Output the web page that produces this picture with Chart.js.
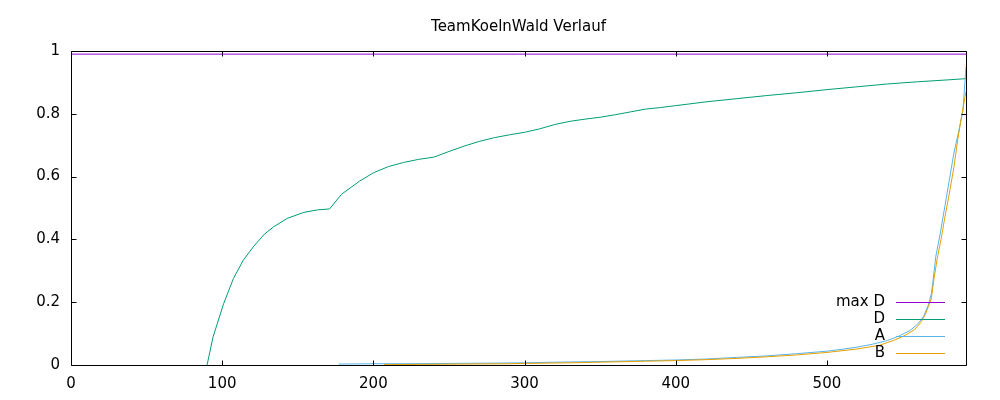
<!DOCTYPE html>
<html>
<head>
<meta charset="utf-8">
<script src="https://cdn.jsdelivr.net/npm/chart.js@4/dist/chart.umd.min.js"></script>
<style>
  html, body { margin: 0; padding: 0; background: #fff; }
  #wrap { width: 1000px; height: 400px; }
</style>
</head>
<body>
<div id="wrap"><canvas id="verlauf"></canvas></div>
<script>
// tick labels
var xTicks = [0, 100, 200, 300, 400, 500];
var yTicks = [0, 0.2, 0.4, 0.6, 0.8, 1];
var xMax = 592;

// max D (flat)
var xMaxD = [0, 592];
var yMaxD = [0.99, 0.99];

// D
var xD = [90, 94, 101, 107.5, 114, 121, 128, 134, 143, 154, 163, 171, 179, 191, 200, 210, 220, 230, 240,
          250, 260, 270, 280, 290, 300, 310, 320, 330, 340, 350, 360, 370, 380, 390, 400, 420, 440, 460,
          480, 500, 520, 540, 560, 580, 592];
var yD = [0, 0.09, 0.196, 0.276, 0.334, 0.379, 0.417, 0.44, 0.467, 0.486, 0.494, 0.497, 0.544, 0.586, 0.612, 0.632, 0.645, 0.655, 0.662,
          0.68, 0.697, 0.712, 0.724, 0.733, 0.741, 0.752, 0.766, 0.776, 0.783, 0.789, 0.797, 0.806, 0.815, 0.82, 0.826, 0.838, 0.848, 0.858,
          0.867, 0.877, 0.886, 0.895, 0.902, 0.908, 0.912];

// A
var xA = [177, 200, 220, 250, 280, 300, 320, 350, 380, 400, 420, 440, 460, 480, 500, 510, 520, 530, 540, 548,
          555, 560, 564, 567, 569, 570, 572, 575, 578, 581, 584, 587, 590, 592];
var yA = [0.003, 0.004, 0.004, 0.005, 0.006, 0.007, 0.009, 0.011, 0.014, 0.016, 0.019, 0.024, 0.029, 0.036, 0.044, 0.05, 0.057, 0.066, 0.078, 0.093,
          0.11, 0.13, 0.155, 0.19, 0.225, 0.26, 0.345, 0.42, 0.505, 0.59, 0.675, 0.74, 0.81, 0.95];

// B
var xB = [207, 230, 260, 290, 300, 330, 350, 380, 400, 420, 440, 460, 480, 500, 520, 535, 545, 552, 558, 562,
          565, 567, 569, 571, 573, 575.5, 578, 581, 584, 586.5, 589, 591.4, 592];
var yB = [0.001, 0.002, 0.003, 0.004, 0.005, 0.007, 0.009, 0.012, 0.014, 0.017, 0.021, 0.026, 0.032, 0.04, 0.051, 0.063, 0.08, 0.095, 0.113, 0.135,
          0.16, 0.185, 0.21, 0.28, 0.34, 0.4, 0.47, 0.547, 0.63, 0.717, 0.79, 0.855, 0.87];

function pts(xs, ys) {
    return xs.map(function (x, i) { return { x: x, y: ys[i] }; });
}

// gnuplot-style frame: border all round, ticks pointing in, mirrored
var frame = {
    id: 'frame',
    afterDatasetsDraw: function (chart) {
        var ctx = chart.ctx, a = chart.chartArea;
        var xs = chart.scales.x, ys = chart.scales.y;
        var L = Math.round(a.left) + 0.5, R = Math.round(a.right) + 0.5;
        var T = Math.round(a.top) + 0.5, B = Math.round(a.bottom) + 0.5;
        var tl = 5;
        ctx.save();
        ctx.strokeStyle = '#000';
        ctx.lineWidth = 1;
        ctx.beginPath();
        ctx.rect(L, T, R - L, B - T);
        xTicks.forEach(function (v) {
            var p = Math.round(xs.getPixelForValue(v)) + 0.5;
            ctx.moveTo(p, B); ctx.lineTo(p, B - tl);
            ctx.moveTo(p, T); ctx.lineTo(p, T + tl);
        });
        yTicks.forEach(function (v) {
            var p = Math.round(ys.getPixelForValue(v)) + 0.5;
            ctx.moveTo(L, p); ctx.lineTo(L + tl, p);
            ctx.moveTo(R, p); ctx.lineTo(R - tl, p);
        });
        ctx.stroke();

        // key, bottom right inside the plot
        ctx.font = '15px "DejaVu Sans"';
        ctx.textAlign = 'right';
        ctx.textBaseline = 'middle';
        chart.data.datasets.forEach(function (ds, i) {
            var y = Math.round(a.bottom - 63.5 + i * 17.2) + 0.5;
            ctx.fillStyle = '#000';
            ctx.fillText(ds.label, a.right - 81, y);
            ctx.strokeStyle = ds.borderColor;
            ctx.beginPath();
            ctx.moveTo(a.right - 70, y);
            ctx.lineTo(a.right - 21, y);
            ctx.stroke();
        });
        ctx.restore();
    }
};

Chart.defaults.font.family = '"DejaVu Sans"';
Chart.defaults.font.size = 15;
Chart.defaults.color = '#000';

new Chart(document.getElementById('verlauf').getContext('2d'), {
    type: 'line',
    data: {
        datasets: [
            { label: 'max D', data: pts(xMaxD, yMaxD), borderColor: '#9400d3', order: 4 },
            { label: 'D', data: pts(xD, yD), borderColor: '#009e73', order: 3 },
            { label: 'A', data: pts(xA, yA), borderColor: '#56b4e9', order: 2 },
            { label: 'B', data: pts(xB, yB), borderColor: '#e69f00', order: 1 }
        ]
    },
    options: {
        responsive: true,
        maintainAspectRatio: false,
        animation: false,
        layout: { padding: { left: 0, right: 34, top: 0, bottom: 0 } },
        elements: {
            line: { borderWidth: 1, tension: 0, fill: false },
            point: { radius: 0, hoverRadius: 0 }
        },
        plugins: {
            legend: { display: false },
            tooltip: { enabled: false },
            title: {
                display: true,
                fullSize: false,
                text: 'TeamKoelnWald Verlauf',
                font: { size: 15, weight: 'normal', lineHeight: 1.2 },
                padding: { top: 18, bottom: 15 }
            }
        },
        scales: {
            x: {
                type: 'linear',
                min: 0,
                max: xMax,
                grid: { display: false, drawTicks: false },
                border: { display: false },
                afterBuildTicks: function (s) { s.ticks = xTicks.map(function (v) { return { value: v }; }); },
                afterFit: function (s) { s.height = 35; },
                ticks: { padding: 10, maxRotation: 0 }
            },
            y: {
                min: 0,
                max: 1,
                grid: { display: false, drawTicks: false },
                border: { display: false },
                afterBuildTicks: function (s) { s.ticks = yTicks.map(function (v) { return { value: v }; }); },
                afterFit: function (s) { s.width = 71; },
                ticks: {
                    padding: 11,
                    callback: function (v) { return String(+v.toFixed(1)); }
                }
            }
        }
    },
    plugins: [frame]
});
</script>
</body>
</html>
